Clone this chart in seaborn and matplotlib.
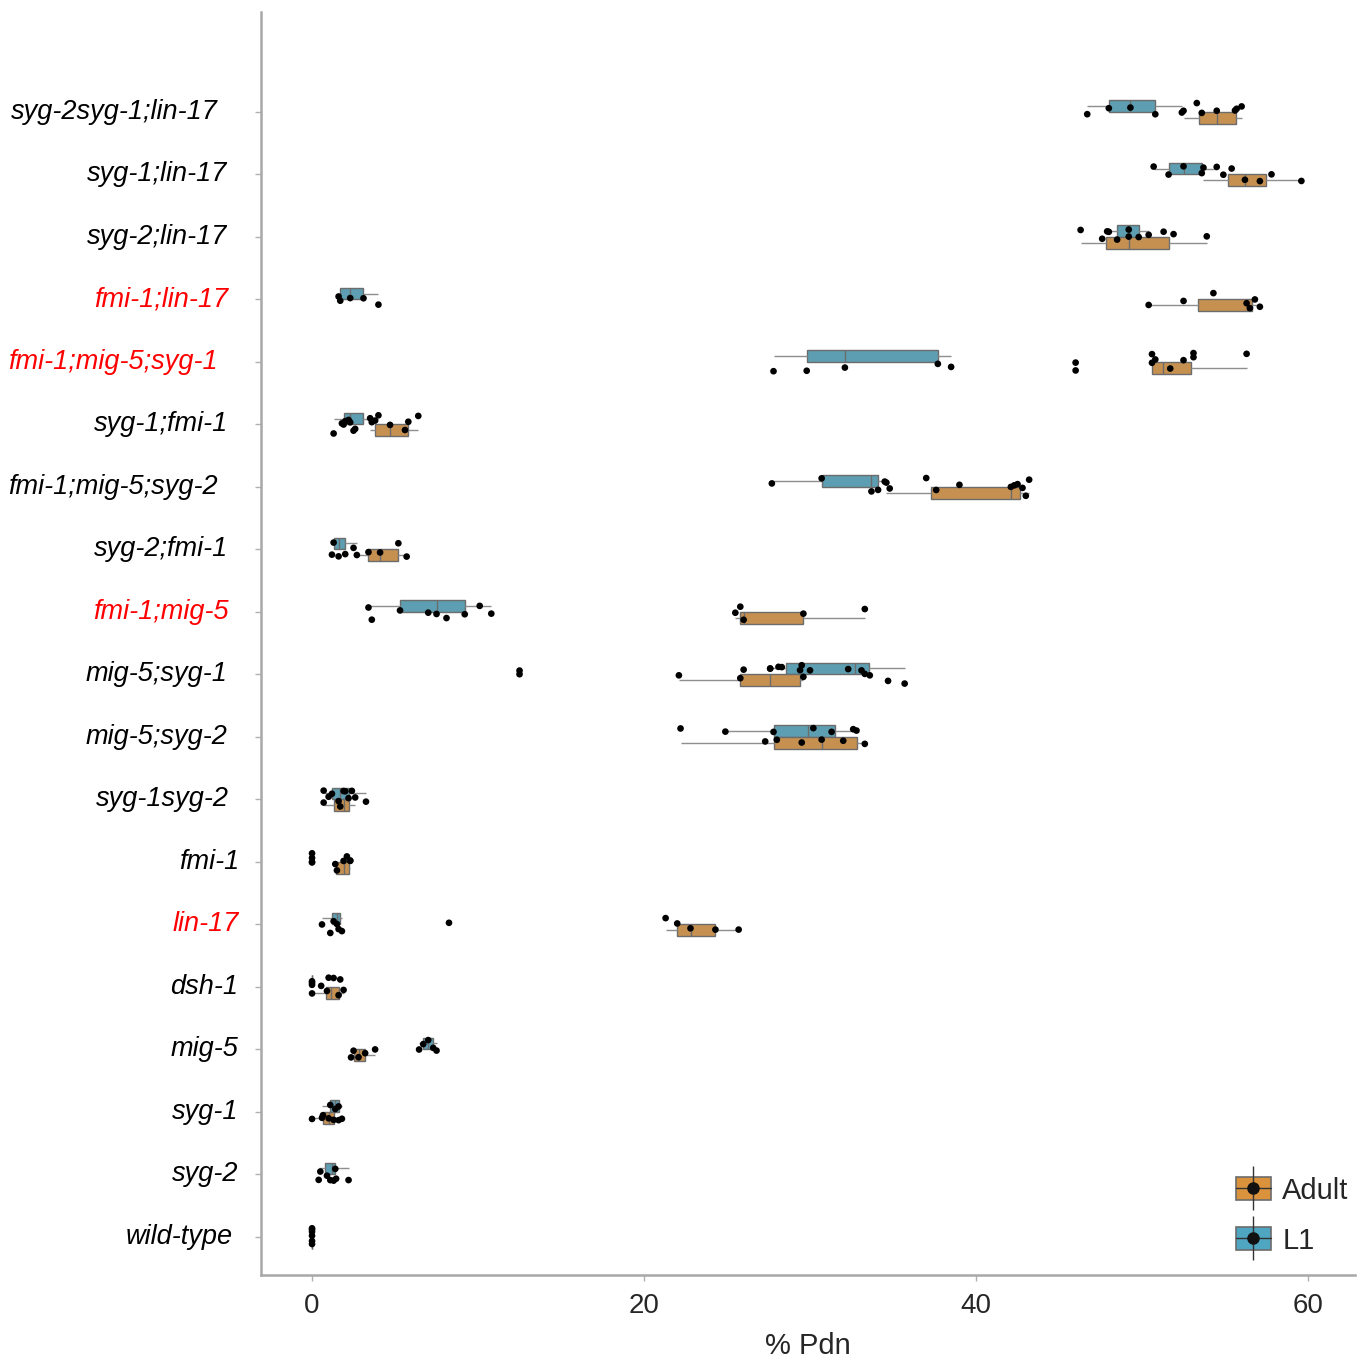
import numpy as np
import pandas as pd
import matplotlib
matplotlib.use("Agg")
import matplotlib.pyplot as plt
import seaborn as sns
from matplotlib import font_manager
from matplotlib.patches import Patch
from matplotlib.lines import Line2D
from matplotlib.legend_handler import HandlerTuple

# genotypes, top to bottom
categories = ['syg-2syg-1;lin-17', 'syg-1;lin-17', 'syg-2;lin-17', 'fmi-1;lin-17',
              'fmi-1;mig-5;syg-1', 'syg-1;fmi-1', 'fmi-1;mig-5;syg-2', 'syg-2;fmi-1',
              'fmi-1;mig-5', 'mig-5;syg-1', 'mig-5;syg-2', 'syg-1syg-2', 'fmi-1',
              'lin-17', 'dsh-1', 'mig-5', 'syg-1', 'syg-2', 'wild-type']
red_labels = ['fmi-1;lin-17', 'fmi-1;mig-5;syg-1', 'fmi-1;mig-5', 'lin-17']

# % Pdn per animal
adult_vals = [
    [52.5, 53.3, 53.6, 54.5, 55.6, 55.7, 56.0],
    [53.7, 54.9, 55.4, 56.2, 57.1, 57.8, 59.6],
    [46.3, 47.6, 48.0, 49.2, 51.3, 51.9, 53.9],
    [50.4, 52.5, 54.3, 56.3, 56.5, 56.8, 57.1],
    [46.0, 46.0, 50.6, 50.6, 50.8, 51.7, 52.5, 53.1, 53.1, 56.3],
    [3.5, 3.8, 4.7, 5.8, 6.4],
    [34.6, 34.8, 37.0, 37.6, 39.0, 42.1, 42.3, 42.5, 42.8, 43.0, 43.2],
    [2.5, 3.4, 4.1, 5.2, 5.7],
    [25.5, 25.8, 26.0, 29.6, 33.3],
    [12.5, 22.1, 25.8, 26.0, 27.6, 28.3, 29.4, 29.5, 29.6],
    [22.2, 27.8, 30.7, 32.8, 33.3],
    [0.7, 1.0, 1.6, 1.9, 2.0, 2.4, 2.6],
    [0.0, 1.4, 1.5, 1.9, 2.1, 2.3, 2.3],
    [21.3, 22.0, 22.8, 24.3, 25.7],
    [0.0, 0.55, 0.9, 1.0, 1.3, 1.6, 1.7, 1.9],
    [2.35, 2.5, 2.8, 3.2, 3.8],
    [0.0, 0.66, 1.0, 1.3, 1.6],
    [],
    [0.0, 0.0, 0.0],
]
l1_vals = [
    [46.7, 48.0, 49.3, 50.8, 52.4],
    [50.7, 51.6, 52.5, 53.6, 54.5],
    [47.9, 48.5, 49.2, 49.8, 50.4],
    [1.6, 1.7, 2.3, 3.1, 4.0],
    [27.8, 29.8, 32.1, 37.7, 38.5],
    [1.3, 1.8, 1.9, 2.0, 2.2, 2.3, 2.5, 2.6, 3.6, 4.0, 5.6],
    [27.7, 30.7, 33.7, 34.1, 34.5],
    [1.2, 1.3, 1.6, 2.0, 2.7],
    [3.4, 3.6, 5.3, 7.0, 7.5, 8.1, 9.2, 10.1, 10.8],
    [12.5, 27.6, 28.1, 30.0, 32.3, 33.1, 33.3, 33.6, 34.7, 35.7],
    [24.9, 27.3, 28.0, 29.5, 30.2, 31.3, 32.0, 32.6],
    [0.7, 1.2, 1.7, 2.2, 3.25],
    [0.0, 0.0, 0.0],
    [0.6, 1.1, 1.3, 1.5, 1.6, 1.8, 8.25],
    [0.0, 0.0, 0.0],
    [6.45, 6.7, 7.0, 7.3, 7.5],
    [0.6, 1.1, 1.4, 1.6, 1.8],
    [0.4, 0.5, 0.9, 1.1, 1.3, 1.4, 1.45, 2.2],
    [0.0, 0.0, 0.0],
]
x_ticks = [0, 20, 40, 60]
colors = {'Adult': '#DA933C', 'L1': '#4FA6C0'}

rows = []
for g, a, l in zip(categories, adult_vals, l1_vals):
    rows += [(g, 'Adult', v) for v in a]
    rows += [(g, 'L1', v) for v in l]
df = pd.DataFrame(rows, columns=['genotype', 'stage', 'pdn'])

sns.set_theme(style='white')
names = {f.name for f in font_manager.fontManager.ttflist}
narrow = 'Liberation Sans Narrow' in names
fam = 'Liberation Sans Narrow' if narrow else 'Liberation Sans'
plt.rcParams['font.family'] = [fam, 'DejaVu Sans']
label_size = 21 if narrow else 19.5
tick_size = 22 if narrow else 20

fig = plt.figure(figsize=(13.64, 13.60), dpi=100)
ax = fig.add_axes([0.1914, 0.0625, 0.802, 0.9287])

sns.boxplot(data=df, x='pdn', y='genotype', hue='stage', order=categories,
            hue_order=['L1', 'Adult'], palette=colors, width=0.38, gap=0,
            showfliers=False, showcaps=False, linewidth=1, linecolor='#6c6c6c',
            whiskerprops=dict(color='#8e8e8e'), legend=False, ax=ax)
np.random.seed(2)
sns.stripplot(data=df, x='pdn', y='genotype', hue='stage', order=categories,
              hue_order=['L1', 'Adult'], palette={'L1': 'black', 'Adult': 'black'},
              dodge=False, jitter=0.15, size=4.8, legend=False, ax=ax, zorder=5)

ax.set_xlim(-3.07, 62.83)
ax.set_ylim(len(categories) - 0.39, -1.6)
ax.set_xticks(x_ticks)
ax.set_xticklabels([str(t) for t in x_ticks], fontsize=tick_size)
ax.set_yticks(range(len(categories)))
ax.set_yticklabels([''] * len(categories))
ax.set_xlabel('% Pdn', fontsize=21, labelpad=9)
ax.set_ylabel('')
ax.tick_params(axis='both', length=4, width=1, color='#b0b0b0', bottom=True, left=True)
ax.tick_params(axis='x', pad=9)
for s in ['top', 'right']:
    ax.spines[s].set_visible(False)
for s in ['left', 'bottom']:
    ax.spines[s].set_color('#a8a8a8')
    ax.spines[s].set_linewidth(1.8)

labels = []
for i, g in enumerate(categories):
    t = ax.annotate(g, xy=(0, i), xycoords=ax.get_yaxis_transform(), xytext=(-12.5, 0),
                    textcoords='offset pixels', ha='right', va='center', fontsize=label_size,
                    fontstyle='italic', color='red' if g in red_labels else 'black',
                    annotation_clip=False)
    labels.append(t)
fig.canvas.draw()
for t in labels:
    w = t.get_window_extent().width
    t.set_position((-12.5 - 0.149 * w, 0))


def stage_handle(c):
    box = Patch(facecolor=c, edgecolor='#6c6c6c', linewidth=1.2)
    hline = Line2D([], [], color='#333333', lw=1)
    vline = Line2D([0.5], [0.5], marker='|', markersize=32, markeredgewidth=1,
                   color='#333333', linestyle='none')
    dot = Line2D([0.5], [0.5], marker='o', markersize=8, color='#111111', linestyle='none')
    return (box, hline, vline, dot)


ax.legend([stage_handle(colors['Adult']), stage_handle(colors['L1'])], ['Adult', 'L1'],
          handler_map={tuple: HandlerTuple(ndivide=1, pad=0)},
          loc='lower right', bbox_to_anchor=(1.013, 0.0), frameon=False, fontsize=21,
          handlelength=1.2, handleheight=0.85, handletextpad=0.4, labelspacing=0.75,
          borderaxespad=0.3)

fig.savefig('out.png', dpi=100)
